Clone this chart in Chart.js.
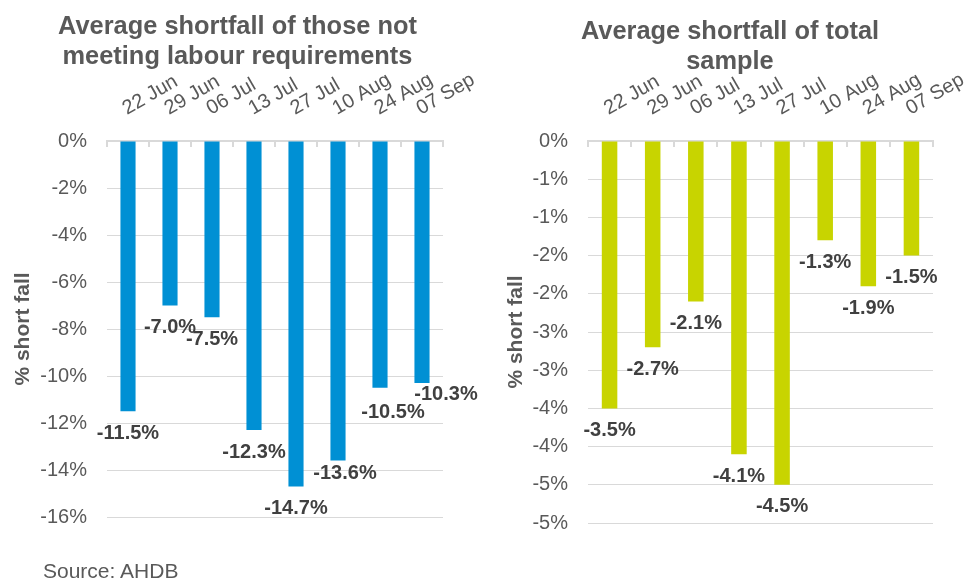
<!DOCTYPE html>
<html>
<head>
<meta charset="utf-8">
<script src="https://cdn.jsdelivr.net/npm/chart.js@4.4.1/dist/chart.umd.min.js"></script>
<style>
  body { margin: 0; background: #fff; width: 971px; height: 579px; position: relative; overflow: hidden; font-family: "Liberation Sans", Arial, sans-serif; }
  .box { position: absolute; top: 0; height: 579px; }
  .title { position: absolute; text-align: center; font-weight: bold; font-size: 25.4px; line-height: 30px; color: #595959; white-space: nowrap; }
  #source { position: absolute; left: 43px; top: 559px; font-size: 21px; color: #595959; }
</style>
</head>
<body>
<div class="box" style="left:0;width:490px"><canvas id="left" width="490" height="579"></canvas></div>
<div class="box" style="left:490px;width:480px"><canvas id="right" width="480" height="579"></canvas></div>
<div class="title" style="left:0;width:475px;top:10px">Average shortfall of those not<br>meeting labour requirements</div>
<div class="title" style="left:490px;width:480px;top:15px">Average shortfall of total<br>sample</div>
<div id="source">Source: AHDB</div>
<script>
// week labels shared by both charts
const weeks = ["22 Jun", "29 Jun", "06 Jul", "13 Jul", "27 Jul", "10 Aug", "24 Aug", "07 Sep"];

// shortfall of those not meeting labour requirements (%)
const notMeeting = [-11.5, -7.0, -7.5, -12.3, -14.7, -13.6, -10.5, -10.3];

// shortfall of the total sample (%)
const totalSample = [-3.5, -2.7, -2.1, -4.1, -4.5, -1.3, -1.9, -1.5];

const FONT = "'Liberation Sans', Arial, sans-serif";
const GREY = "#595959";
const GRID = "#d9d9d9";

// draws the value under the end of each bar
const barLabels = {
  id: "barLabels",
  afterDatasetsDraw(chart, args, opts) {
    const ctx = chart.ctx;
    const meta = chart.getDatasetMeta(0);
    const values = chart.data.datasets[0].data;
    const shifts = opts.shifts || {};
    ctx.save();
    ctx.font = "bold 20px " + FONT;
    ctx.fillStyle = "#404040";
    ctx.textAlign = "center";
    ctx.textBaseline = "middle";
    meta.data.forEach(function (bar, i) {
      const s = shifts[i] || [0, 0];
      ctx.fillText(values[i].toFixed(1) + "%", bar.x + s[0], bar.y + 22 + s[1]);
    });
    ctx.restore();
  }
};

// slanted week labels above the top axis plus the little tick marks
// that hang under it between categories
const weekAxis = {
  id: "weekAxis",
  afterDraw(chart) {
    const x = chart.scales.x;
    const ctx = chart.ctx;
    const labels = chart.data.labels;
    const n = labels.length;
    ctx.save();
    ctx.strokeStyle = GRID;
    ctx.lineWidth = 2;
    for (let i = 0; i <= n; i++) {
      const px = Math.round(x.left + i * (x.right - x.left) / n);
      ctx.beginPath();
      ctx.moveTo(px, x.bottom);
      ctx.lineTo(px, x.bottom + 6);
      ctx.stroke();
    }
    ctx.font = "20px " + FONT;
    ctx.fillStyle = GREY;
    ctx.textAlign = "left";
    ctx.textBaseline = "alphabetic";
    labels.forEach(function (label, i) {
      ctx.save();
      ctx.translate(x.getPixelForTick(i) - 1, x.bottom - 26);
      ctx.rotate(-30 * Math.PI / 180);
      ctx.fillText(label, 0, 0);
      ctx.restore();
    });
    ctx.restore();
  }
};

function buildChart(canvasId, values, color, cfg) {
  return new Chart(document.getElementById(canvasId), {
    type: "bar",
    data: {
      labels: weeks,
      datasets: [{
        data: values,
        backgroundColor: color,
        barPercentage: 0.36,
        categoryPercentage: 1.0
      }]
    },
    plugins: [barLabels, weekAxis],
    options: {
      responsive: false,
      animation: false,
      layout: { padding: { left: 0, top: 0, right: cfg.padRight, bottom: cfg.padBottom } },
      plugins: {
        legend: { display: false },
        tooltip: { enabled: false },
        barLabels: { shifts: cfg.shifts }
      },
      scales: {
        x: {
          position: "top",
          afterFit(scale) {
            scale.height = 141;
            scale.paddingLeft = 0;
            scale.paddingRight = 0;
          },
          grid: { display: false },
          border: { display: true, color: GRID, width: 2 },
          ticks: { display: false }
        },
        y: {
          min: cfg.min,
          max: 0,
          afterFit(scale) {
            scale.width = cfg.yWidth;
            scale.paddingTop = 0;
            scale.paddingBottom = 0;
          },
          grid: { color: GRID, lineWidth: 1, drawTicks: false },
          border: { display: false },
          ticks: {
            stepSize: cfg.step,
            padding: 20,
            color: GREY,
            font: { family: FONT, size: 20 },
            callback: cfg.tickText
          },
          title: {
            display: true,
            text: "% short fall",
            color: GREY,
            font: { family: FONT, size: 21, weight: "bold", lineHeight: 1.2 },
            padding: { top: cfg.yTitlePad, bottom: 0 }
          }
        }
      }
    }
  });
}

buildChart("left", notMeeting, "#0090d4", {
  yWidth: 107,
  padRight: 47,
  padBottom: 62,
  min: -16,
  step: 2,
  yTitlePad: 11,
  shifts: { 5: [7, -9], 6: [13, 3], 7: [24, -11] },
  tickText: function (v) { return v + "%"; }
});

buildChart("right", totalSample, "#c8d400", {
  yWidth: 98,
  padRight: 37,
  padBottom: 56,
  min: -5,
  step: 0.5,
  yTitlePad: 14,
  shifts: {},
  // whole-percent labels, rounded like the source chart
  tickText: function (v) { return (v < 0 ? "-" : "") + Math.round(Math.abs(v)) + "%"; }
});
</script>
</body>
</html>
